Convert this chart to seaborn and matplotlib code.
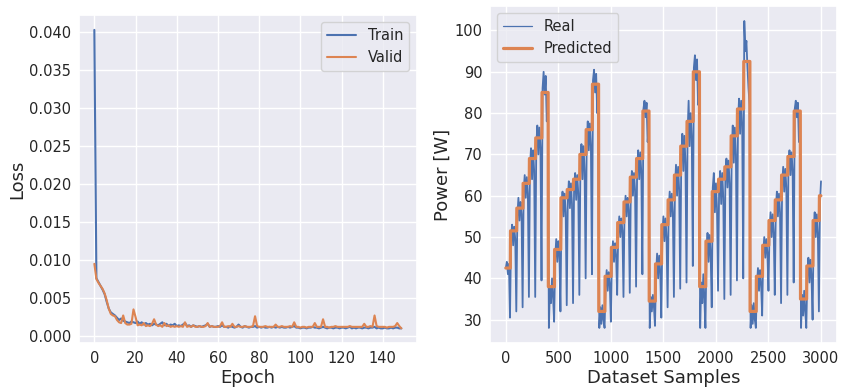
import numpy as np
import pandas as pd
import matplotlib
matplotlib.use("Agg")
import matplotlib.pyplot as plt
import seaborn as sns

# ---------------- Left panel: loss curves ----------------
train_loss = [
    0.0403, 0.0076, 0.0071, 0.0066, 0.0061, 0.0055, 0.0045, 0.0036, 0.0031, 0.0029,
    0.0027, 0.0024, 0.0021, 0.0023, 0.0020, 0.0019, 0.0018, 0.0017, 0.0019, 0.0018,
    0.0017, 0.0019, 0.0016, 0.0018, 0.0015, 0.0017, 0.0015, 0.0016, 0.0014, 0.0016,
    0.0015, 0.0014, 0.0016, 0.0018, 0.0014, 0.0016, 0.0013, 0.0015, 0.0014, 0.0016,
    0.0013, 0.0014, 0.0013, 0.0015, 0.0017, 0.0013, 0.0014, 0.0012, 0.0014, 0.0013,
    0.0012, 0.0013, 0.0012, 0.0013, 0.0014, 0.0016, 0.0012, 0.0013, 0.0012, 0.0012,
    0.0013, 0.0012, 0.0014, 0.0012, 0.0012, 0.0011, 0.0013, 0.0012, 0.0011, 0.0012,
    0.0015, 0.0012, 0.0011, 0.0013, 0.0012, 0.0011, 0.0012, 0.0012, 0.0013, 0.0011,
    0.0012, 0.0011, 0.0012, 0.0011, 0.0011, 0.0012, 0.0011, 0.0012, 0.0011, 0.0012,
    0.0011, 0.0012, 0.0011, 0.0011, 0.0012, 0.0011, 0.0012, 0.0013, 0.0011, 0.0011,
    0.0010, 0.0011, 0.0011, 0.0010, 0.0011, 0.0011, 0.0012, 0.0011, 0.0011, 0.0010,
    0.0011, 0.0012, 0.0011, 0.0010, 0.0011, 0.0011, 0.0010, 0.0011, 0.0011, 0.0010,
    0.0011, 0.0011, 0.0010, 0.0011, 0.0012, 0.0010, 0.0011, 0.0010, 0.0011, 0.0011,
    0.0010, 0.0011, 0.0011, 0.0010, 0.0011, 0.0011, 0.0012, 0.0010, 0.0011, 0.0010,
    0.0010, 0.0011, 0.0010, 0.0010, 0.0011, 0.0010, 0.0011, 0.0011, 0.0010, 0.0010,
]
valid_loss = [
    0.0095, 0.0075, 0.0070, 0.0066, 0.0062, 0.0056, 0.0047, 0.0036, 0.0029, 0.0027,
    0.0026, 0.0021, 0.0018, 0.0017, 0.0027, 0.0017, 0.0015, 0.0015, 0.0016, 0.0035,
    0.0025, 0.0014, 0.0015, 0.0014, 0.0017, 0.0013, 0.0014, 0.0013, 0.0016, 0.0022,
    0.0015, 0.0013, 0.0014, 0.0012, 0.0017, 0.0013, 0.0014, 0.0012, 0.0013, 0.0012,
    0.0013, 0.0012, 0.0013, 0.0012, 0.0018, 0.0012, 0.0013, 0.0012, 0.0014, 0.0012,
    0.0012, 0.0013, 0.0012, 0.0012, 0.0013, 0.0017, 0.0012, 0.0013, 0.0012, 0.0012,
    0.0012, 0.0013, 0.0018, 0.0012, 0.0012, 0.0013, 0.0012, 0.0016, 0.0012, 0.0012,
    0.0013, 0.0012, 0.0012, 0.0013, 0.0012, 0.0012, 0.0012, 0.0013, 0.0026, 0.0013,
    0.0012, 0.0012, 0.0012, 0.0013, 0.0012, 0.0012, 0.0012, 0.0012, 0.0015, 0.0012,
    0.0012, 0.0013, 0.0012, 0.0012, 0.0012, 0.0013, 0.0012, 0.0018, 0.0012, 0.0012,
    0.0011, 0.0012, 0.0012, 0.0011, 0.0012, 0.0012, 0.0012, 0.0017, 0.0012, 0.0012,
    0.0012, 0.0022, 0.0012, 0.0012, 0.0011, 0.0012, 0.0012, 0.0013, 0.0012, 0.0012,
    0.0012, 0.0012, 0.0012, 0.0012, 0.0013, 0.0012, 0.0012, 0.0012, 0.0012, 0.0012,
    0.0012, 0.0016, 0.0012, 0.0012, 0.0013, 0.0012, 0.0027, 0.0013, 0.0012, 0.0012,
    0.0012, 0.0012, 0.0011, 0.0012, 0.0012, 0.0012, 0.0013, 0.0017, 0.0013, 0.0010,
]

# ---------------- Right panel: power ----------------
# predicted step levels per cycle
pred_c1 = [42.5, 51.5, 57, 63, 69, 74, 85]
pred_c2 = [38, 47, 59.5, 61.5, 64, 70, 76, 87]
pred_c3 = [32, 40.5, 47.5, 53.5, 58.5, 64.5, 69, 80.5]
pred_c4 = [34.5, 43.5, 53, 59, 65, 72, 78, 90]
pred_c5 = [38, 49, 61, 64, 67, 74.5, 81, 92.5]
pred_c6 = [32, 40.5, 48, 54, 59, 65, 69.5, 80.5]
pred_c7 = [35, 43, 54, 60]
# length (in samples) of each predicted step
seg_lengths = [44] + [60] * 49 + [16]

# real signal, read every 10 samples
real_c1 = [42.5, 44, 41, 43.5, 30.5,
           50, 53, 48, 52.5, 49.5, 32,
           55, 59.5, 54, 58.5, 55.5, 33,
           61, 65, 59.5, 64.5, 60.5, 35.5,
           67, 71.5, 64, 71, 66, 35.5,
           72, 77, 70, 76.5, 71.5, 39.5,
           86, 90, 84.5, 89, 78, 83]
real_c2 = [28, 38, 34, 40, 35.5, 29.5,
           45, 49.5, 44, 49, 45.5, 32,
           57, 61, 55, 60.5, 56, 33.5,
           59, 63.5, 57, 63, 58, 34,
           62, 65.5, 59, 65, 60.5, 36,
           67, 72.5, 64, 72, 66, 40,
           73, 78, 71, 77.5, 72, 41,
           88, 90.5, 85, 89.5, 80, 84]
real_c3 = [28, 33, 29, 33.5, 30, 28,
           38, 42, 37, 41.5, 38.5, 29.5,
           45, 49, 44, 48.5, 45.5, 36,
           51, 55, 50, 54.5, 51.5, 35.5,
           56, 60, 55, 59.5, 56.5, 36.5,
           62, 66, 60, 65.5, 61.5, 38,
           66.5, 71, 64, 70.5, 65.5, 41,
           81, 83, 79, 82.5, 73, 77]
real_c4 = [28, 35.5, 32, 36, 33, 28.5,
           41, 46, 40, 45.5, 41.5, 30.5,
           50.5, 55, 49, 54.5, 50, 33,
           56.5, 61, 55, 60.5, 56, 35.5,
           62, 67.5, 60, 67, 61.5, 37.5,
           69, 75, 66, 74.5, 68, 39,
           75, 83, 72, 80, 74, 43,
           91, 94, 88, 93, 82, 86]
real_c5 = [28, 39, 34, 41, 35, 28,
           46, 51, 44, 50.5, 45.5, 33,
           62, 65.5, 56, 63, 57, 37,
           61, 66, 58, 65.5, 59.5, 35,
           64, 69, 62, 68.5, 63, 36,
           71, 77, 68, 76.5, 70, 39.5,
           78, 83.5, 75, 83, 77, 40,
           102.3, 95, 97.5, 91, 86, 82]
real_c6 = [28, 33.5, 29, 34, 30, 28,
           38, 42.5, 37, 42, 38.5, 31,
           46, 50, 45, 49.5, 46, 37,
           51.5, 56, 50, 55.5, 51, 36,
           57, 61, 55, 60.5, 56, 34,
           62.5, 67, 61, 66.5, 62, 36,
           67, 71, 65, 70.5, 66, 39,
           81, 83, 79, 82.5, 73, 76]
real_c7 = [28, 36, 31, 37, 32, 28,
           41, 45, 39, 44.5, 40, 30,
           52, 56, 50, 55.5, 51, 32,
           58, 63.5]

# ---------------- Build data frames ----------------
loss_df = pd.DataFrame({
    "Epoch": np.arange(len(train_loss)),
    "Train": train_loss,
    "Valid": valid_loss,
})

pred_levels = pred_c1 + pred_c2 + pred_c3 + pred_c4 + pred_c5 + pred_c6 + pred_c7
pred_values = np.repeat(pred_levels, seg_lengths)
pred_df = pd.DataFrame({"x": np.arange(len(pred_values)), "y": pred_values})

real_values = real_c1 + real_c2 + real_c3 + real_c4 + real_c5 + real_c6 + real_c7
real_df = pd.DataFrame({"x": np.arange(len(real_values)) * 10, "y": real_values})

# ---------------- Style ----------------
sns.set_theme(style="darkgrid")
plt.rcParams.update({
    "font.family": ["DejaVu Sans"],
    "xtick.labelsize": 10.5,
    "ytick.labelsize": 10.5,
    "axes.labelsize": 13,
    "legend.fontsize": 10.5,
    "xtick.major.size": 0,
    "ytick.major.size": 0,
    "xtick.major.pad": 5.5,
    "ytick.major.pad": 5.5,
    "axes.labelpad": 2,
})

blue, orange = sns.color_palette("deep")[0], sns.color_palette("deep")[1]

fig = plt.figure(figsize=(8.43, 3.89), dpi=100)
ax1 = fig.add_axes([0.0937, 0.1175, 0.4006, 0.844])
ax2 = fig.add_axes([0.5813, 0.1175, 0.4113, 0.868])

sns.lineplot(data=loss_df, x="Epoch", y="Train", ax=ax1, color=blue, lw=1.5, label="Train")
sns.lineplot(data=loss_df, x="Epoch", y="Valid", ax=ax1, color=orange, lw=1.5, label="Valid")
ax1.set_xlabel("Epoch")
ax1.set_ylabel("Loss")
ax1.set_xticks([0, 20, 40, 60, 80, 100, 120, 140])
ax1.set_yticks([0.000, 0.005, 0.010, 0.015, 0.020, 0.025, 0.030, 0.035, 0.040])
ax1.yaxis.set_major_formatter(matplotlib.ticker.FormatStrFormatter("%.3f"))
ax1.legend(loc="upper right")

sns.lineplot(data=real_df, x="x", y="y", ax=ax2, color=blue, lw=1.3, label="Real")
sns.lineplot(data=pred_df, x="x", y="y", ax=ax2, color=orange, lw=2.3, label="Predicted")
ax2.set_xlabel("Dataset Samples")
ax2.set_ylabel("Power [W]")
ax2.set_xticks([0, 500, 1000, 1500, 2000, 2500, 3000])
ax2.set_yticks([30, 40, 50, 60, 70, 80, 90, 100])
leg = ax2.legend(loc="upper left")
leg.get_lines()[0].set_linewidth(0.9)

fig.savefig("out.png", dpi=100)
